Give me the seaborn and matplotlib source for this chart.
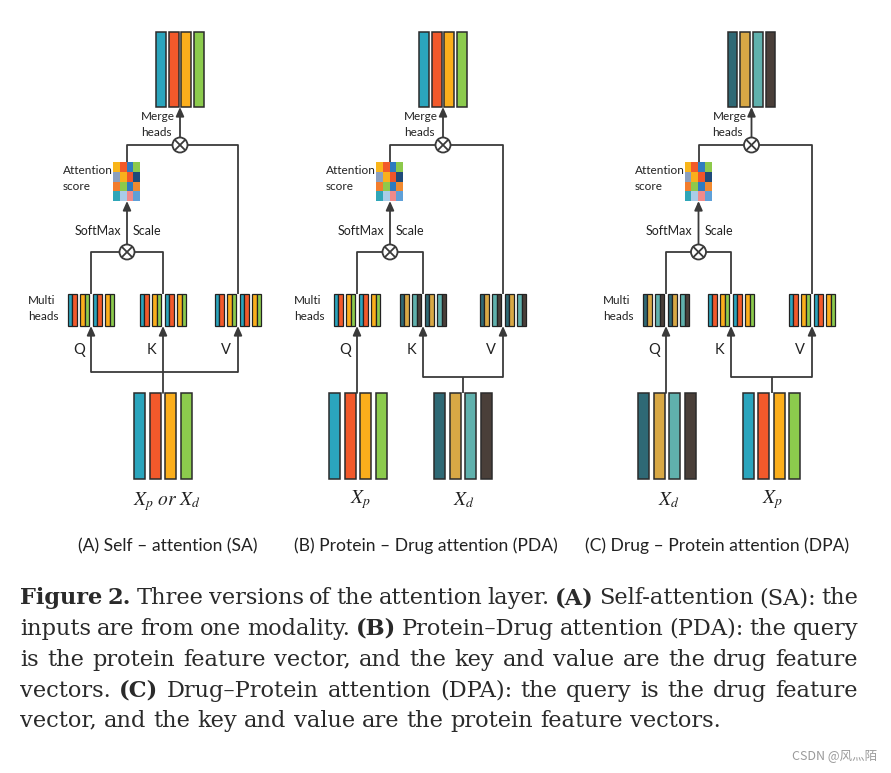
import numpy as np
import matplotlib
import matplotlib.pyplot as plt
from matplotlib.colors import ListedColormap
from matplotlib.patches import Rectangle, Circle
from matplotlib import font_manager
import seaborn as sns

W, H = 891, 773

# feature-vector colours
protein_colors = ["#2ba5bd", "#f2592b", "#fbae1c", "#8ccb4d"]
drug_colors = ["#2f6975", "#d8a845", "#60b1ad", "#4a3f39"]
# which two colours make up each of the 4 heads
protein_heads = [[0, 1], [2, 3], [0, 1], [2, 3]]
drug_heads = [[0, 1], [2, 3], [0, 1], [2, 3]]

# 4x4 attention score cells
score_colors = ["#f9b51a", "#f25a2a", "#2e7bc0", "#8dc94b",
                "#8a9fbf", "#f9b01c", "#f0552a", "#1f4a7a",
                "#f27c2c", "#8dc94b", "#2e7bc0", "#f08a30",
                "#2fa6b8", "#a9cce8", "#f08a8a", "#5fa0d8"]

panel_titles = ["(A) Self – attention (SA)",
                "(B) Protein – Drug attention (PDA)",
                "(C) Drug – Protein attention (DPA)"]
query_src = ["protein", "protein", "drug"]
kv_src = ["protein", "drug", "protein"]
merge_src = ["protein", "protein", "drug"]
input_src = [["protein"], ["protein", "drug"], ["drug", "protein"]]
input_labels = [[r"$X_p\ or\ X_d$"], [r"$X_p$", r"$X_d$"], [r"$X_d$", r"$X_p$"]]

caption_lines = [
    "Figure 2. Three versions of the attention layer. (A) Self-attention (SA): the",
    "inputs are from one modality. (B) Protein–Drug attention (PDA): the query",
    "is the protein feature vector, and the key and value are the drug feature",
    "vectors. (C) Drug–Protein attention (DPA): the query is the drug feature",
    "vector, and the key and value are the protein feature vectors.",
]
bold_words = {"Figure", "2.", "(A)", "(B)", "(C)"}
watermark = "CSDN @风灬陌"

# layout (pixels)
qx = [91, 357, 666]
kx = [163, 423, 731]
vx = [238, 503, 812]

sns.set_theme(style="white")


def pick(fams):
    for f in fams:
        try:
            font_manager.findfont(f, fallback_to_default=False)
            return f
        except Exception:
            pass
    return "DejaVu Sans"


sans = pick(["Lato", "Open Sans"])
serif = pick(["DejaVu Serif", "Liberation Serif"])
plt.rcParams["font.family"] = [sans, "DejaVu Sans"]
plt.rcParams["mathtext.fontset"] = "stix"

fig = plt.figure(figsize=(W / 100, H / 100), dpi=100)
ax = fig.add_axes([0, 0, 1, 1])
ax.set_xlim(0, W)
ax.set_ylim(H, 0)
ax.axis("off")

LC = "#3a3a3a"
LW = 1.3
TC = "#222222"


def pal(src):
    return protein_colors if src == "protein" else drug_colors


def heads_of(src):
    return protein_heads if src == "protein" else drug_heads


def vector(cx, y0, y1, colors, bw, gap):
    total = 4 * bw + 3 * gap
    x = cx - total / 2
    for c in colors:
        ax.add_patch(Rectangle((x, y0), bw, y1 - y0, facecolor=c,
                               edgecolor="#2b2b2b", lw=1.1, zorder=3))
        x += bw + gap


def head_group(cx, src, y0=294, y1=326):
    cols = pal(src)
    sw, gap = 4.6, 3.3
    total = 4 * 2 * sw + 3 * gap
    x = cx - total / 2
    for pair in heads_of(src):
        for i in pair:
            ax.add_patch(Rectangle((x, y0), sw, y1 - y0, facecolor=cols[i],
                                   edgecolor="#222222", lw=0.9, zorder=3))
            x += sw
        x += gap


def line(xs, ys):
    ax.plot(xs, ys, color=LC, lw=LW, solid_capstyle="butt", zorder=2)


def arrow(x, y_from, y_to):
    ax.annotate("", xy=(x, y_to), xytext=(x, y_from),
                arrowprops=dict(arrowstyle="-|>,head_length=0.45,head_width=0.2",
                                color=LC, lw=LW, shrinkA=0, shrinkB=0), zorder=2)


def otimes(cx, cy, r=7.5):
    ax.add_patch(Circle((cx, cy), r, facecolor="white", edgecolor=LC, lw=LW, zorder=4))
    d = r * 0.707
    ax.plot([cx - d, cx + d], [cy - d, cy + d], color=LC, lw=LW, zorder=5)
    ax.plot([cx - d, cx + d], [cy + d, cy - d], color=LC, lw=LW, zorder=5)


small = 8.5
for p in range(3):
    q, k, v = qx[p], kx[p], vx[p]
    c1 = (q + k) / 2
    c2 = c1 + 53
    gx0 = c1 - 14

    # merged output vector
    vector(c2, 32, 107, pal(merge_src[p]), 9.8, 2.9)
    arrow(c2, 145 - 7.5, 107)
    ax.text(c2 - 39, 117, "Merge", fontsize=small, va="center", ha="left", color=TC)
    ax.text(c2 - 39, 132, "heads", fontsize=small, va="center", ha="left", color=TC)
    otimes(c2, 145)
    line([c1, c1, c2 - 7.5], [162, 145, 145])
    line([c2 + 7.5, v, v], [145, 145, 294])

    # attention score grid (seaborn heatmap)
    sub = fig.add_axes([gx0 / W, 1 - 201 / H, 27 / W, 39 / H])
    sns.heatmap(np.arange(16).reshape(4, 4), cmap=ListedColormap(score_colors),
                vmin=-0.5, vmax=15.5, cbar=False, xticklabels=False,
                yticklabels=False, ax=sub)
    ax.text(gx0 - 50, 170, "Attention", fontsize=small, va="center", ha="left", color=TC)
    ax.text(gx0 - 50, 186, "score", fontsize=small, va="center", ha="left", color=TC)

    # softmax / scale
    arrow(c1, 252 - 7.5, 201)
    ax.text(c1 - 6, 231, "SoftMax", fontsize=9, va="center", ha="right", color=TC)
    ax.text(c1 + 6, 231, "Scale", fontsize=9, va="center", ha="left", color=TC)
    otimes(c1, 252)
    line([q, q, c1 - 7.5], [294, 252, 252])
    line([c1 + 7.5, k, k], [252, 252, 294])

    # multi heads
    head_group(q, query_src[p])
    head_group(k, kv_src[p])
    head_group(v, kv_src[p])
    ax.text(q - 23 - 40, 300, "Multi", fontsize=small, va="center", ha="left", color=TC)
    ax.text(q - 23 - 40, 316, "heads", fontsize=small, va="center", ha="left", color=TC)
    for x, lab in zip([q, k, v], ["Q", "K", "V"]):
        ax.text(x - 12, 350, lab, fontsize=10.5, va="center", ha="center", color=TC)

    # inputs
    if p == 0:
        line([q, v], [372, 372])
        arrow(q, 372, 326)
        arrow(v, 372, 326)
        arrow(k, 393, 326)
        vector(k, 393, 479, pal(input_src[p][0]), 11, 4.4)
        ax.text(k + 4, 502, input_labels[p][0], fontsize=14, va="center", ha="center", color=TC)
    else:
        stem = (k + v) / 2
        arrow(q, 393, 326)
        line([k, v], [377, 377])
        arrow(k, 377, 326)
        arrow(v, 377, 326)
        line([stem, stem], [393, 377])
        vector(q + 1, 393, 479, pal(input_src[p][0]), 11, 4.4)
        vector(stem, 393, 479, pal(input_src[p][1]), 11, 4.4)
        ax.text(q + 3, 500, input_labels[p][0], fontsize=14, va="center", ha="center", color=TC)
        ax.text(stem + 1, 500, input_labels[p][1], fontsize=14, va="center", ha="center", color=TC)

title_x = [168, 426, 717]
for x, t in zip(title_x, panel_titles):
    ax.text(x, 546, t, fontsize=12.6, va="center", ha="center", color=TC)

# caption paragraph, justified
rend = fig.canvas.get_renderer()


def width_of(s, size, bold=False):
    t = ax.text(0, 0, s, fontsize=size, family=serif,
                fontweight="bold" if bold else "normal")
    w = t.get_window_extent(rend).width
    t.remove()
    return w


size = 16.0
nat = width_of(caption_lines[-1], size)
size = size * (722 - 20) / nat

line_y = [598, 629, 660, 691, 721]
x0, x1 = 20, 858
for i, (txt, y) in enumerate(zip(caption_lines, line_y)):
    words = txt.split(" ")
    objs, ws = [], []
    for w in words:
        b = w in bold_words
        t = ax.text(0, y, w, fontsize=size, family=serif, va="center", ha="left",
                    fontweight="bold" if b else "normal", color="#2a2a2a")
        objs.append(t)
        ws.append(t.get_window_extent(rend).width)
    if i < len(caption_lines) - 1:
        gap = (x1 - x0 - sum(ws)) / (len(words) - 1)
    else:
        gap = width_of("a a", size) - width_of("aa", size)
    x = x0
    for t, w in zip(objs, ws):
        t.set_x(x)
        x += w + gap

ax.text(877, 757, watermark, fontsize=9, va="center", ha="right", color="#9a9a9a",
        family=["Noto Sans CJK SC", "DejaVu Sans"])

fig.savefig("out.png", dpi=100, facecolor="white")
